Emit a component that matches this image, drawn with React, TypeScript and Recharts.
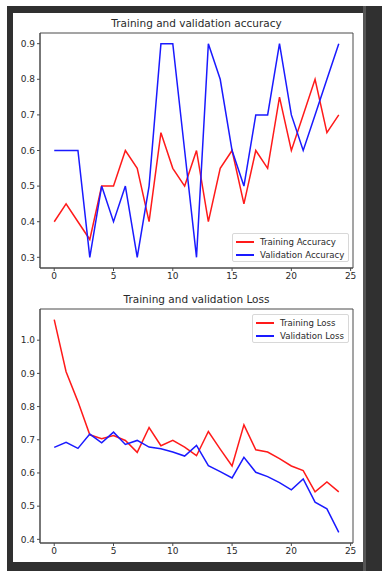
import { LineChart, Line, XAxis, YAxis, CartesianGrid } from 'recharts';

const epochs = [0, 1, 2, 3, 4, 5, 6, 7, 8, 9, 10, 11, 12, 13, 14, 15, 16, 17, 18, 19, 20, 21, 22, 23, 24];
const trainAcc = [0.4, 0.45, 0.4, 0.35, 0.5, 0.5, 0.6, 0.55, 0.4, 0.65, 0.55, 0.5, 0.6, 0.4, 0.55, 0.6, 0.45, 0.6, 0.55, 0.75, 0.6, 0.7, 0.8, 0.65, 0.7];
const valAcc = [0.6, 0.6, 0.6, 0.3, 0.5, 0.4, 0.5, 0.3, 0.5, 0.9, 0.9, 0.6, 0.3, 0.9, 0.8, 0.6, 0.5, 0.7, 0.7, 0.9, 0.7, 0.6, 0.7, 0.8, 0.9];
const trainLoss = [1.062, 0.905, 0.815, 0.715, 0.703, 0.713, 0.698, 0.662, 0.737, 0.682, 0.698, 0.678, 0.652, 0.725, 0.672, 0.621, 0.745, 0.67, 0.663, 0.643, 0.621, 0.607, 0.543, 0.573, 0.543];
const valLoss = [0.677, 0.692, 0.674, 0.717, 0.691, 0.723, 0.686, 0.698, 0.678, 0.673, 0.663, 0.651, 0.683, 0.622, 0.604, 0.585, 0.647, 0.602, 0.589, 0.571, 0.549, 0.582, 0.512, 0.492, 0.421];

const xTicks = [0, 5, 10, 15, 20, 25];
const accTicks = [0.3, 0.4, 0.5, 0.6, 0.7, 0.8, 0.9];
const lossTicks = [0.4, 0.5, 0.6, 0.7, 0.8, 0.9, 1.0];

const accData = epochs.map((e, i) => ({ epoch: e, train: trainAcc[i], val: valAcc[i] }));
const lossData = epochs.map((e, i) => ({ epoch: e, train: trainLoss[i], val: valLoss[i] }));

const FONT = '"DejaVu Sans", sans-serif';
const TEXT = '#2a2a2a';
const SPINE = '#4a4a4a';
const RED = '#ff1a1a';
const BLUE = '#1a1aff';
const tick = { fill: TEXT, fontSize: 9, fontFamily: FONT };

// matplotlib-style box around the plot area
const boxRows = ({ offset }: any) => [offset.top, offset.top + offset.height];
const boxCols = ({ offset }: any) => [offset.left, offset.left + offset.width];

function Panel({ data, ticks, domain, title, labels, top, marginTop, legend }: any) {
  return (
    <div style={{ position: 'absolute', left: 0, top, width: 350, height: 275 }}>
      <div style={{ position: 'absolute', left: 27, width: 313, top: marginTop - 16, textAlign: 'center', fontFamily: FONT, fontSize: 10.5, color: TEXT }}>
        {title}
      </div>
      <LineChart width={350} height={275} data={data} margin={{ top: marginTop, right: 10, left: 0, bottom: 0 }}>
        <CartesianGrid stroke={SPINE} horizontalCoordinatesGenerator={boxRows} verticalCoordinatesGenerator={boxCols} />
        <XAxis
          dataKey="epoch"
          type="number"
          domain={[-1.2, 25.2]}
          ticks={xTicks}
          height={20}
          tick={tick}
          tickSize={3}
          axisLine={{ stroke: SPINE }}
          tickLine={{ stroke: SPINE }}
        />
        <YAxis
          type="number"
          domain={domain}
          ticks={ticks}
          width={27}
          tick={tick}
          tickSize={3}
          tickFormatter={(v: number) => v.toFixed(1)}
          axisLine={{ stroke: SPINE }}
          tickLine={{ stroke: SPINE }}
        />
        <Line type="linear" dataKey="train" stroke={RED} strokeWidth={1.5} dot={false} isAnimationActive={false} />
        <Line type="linear" dataKey="val" stroke={BLUE} strokeWidth={1.5} dot={false} isAnimationActive={false} />
      </LineChart>
      <div
        style={{
          position: 'absolute',
          left: legend.left,
          top: legend.top,
          width: legend.width,
          height: 29,
          border: '1px solid #d8d8d8',
          borderRadius: 2,
          background: 'rgba(255,255,255,0.8)',
          boxSizing: 'border-box',
          fontFamily: FONT,
          fontSize: 8.6,
          color: TEXT,
        }}
      >
        {labels.map((l: string, i: number) => (
          <div key={l} style={{ position: 'absolute', left: 3, top: 2 + i * 13, height: 12, display: 'flex', alignItems: 'center' }}>
            <span style={{ display: 'inline-block', width: 18, height: 1.5, background: i === 0 ? RED : BLUE, marginRight: 6 }} />
            <span style={{ whiteSpace: 'nowrap' }}>{l}</span>
          </div>
        ))}
      </div>
    </div>
  );
}

export default function App() {
  return (
    <div style={{ position: 'absolute', left: 0, top: 0, width: 382, height: 571, background: '#fff', overflow: 'hidden' }}>
      <div style={{ position: 'absolute', left: 7, top: 6, width: 375, height: 565, background: '#303030' }} />
      <div style={{ position: 'absolute', left: 363, top: 6, width: 3, height: 565, background: '#555' }} />
      <div style={{ position: 'absolute', left: 13, top: 13, width: 350, height: 549, background: '#fff' }}>
        <Panel
          top={0}
          marginTop={20}
          data={accData}
          ticks={accTicks}
          domain={[0.27, 0.93]}
          title="Training and validation accuracy"
          labels={['Training Accuracy', 'Validation Accuracy']}
          legend={{ left: 219, top: 220, width: 117 }}
        />
        <Panel
          top={275}
          marginTop={21}
          data={lossData}
          ticks={lossTicks}
          domain={[0.389, 1.094]}
          title="Training and validation Loss"
          labels={['Training Loss', 'Validation Loss']}
          legend={{ left: 239, top: 26, width: 97 }}
        />
      </div>
    </div>
  );
}
